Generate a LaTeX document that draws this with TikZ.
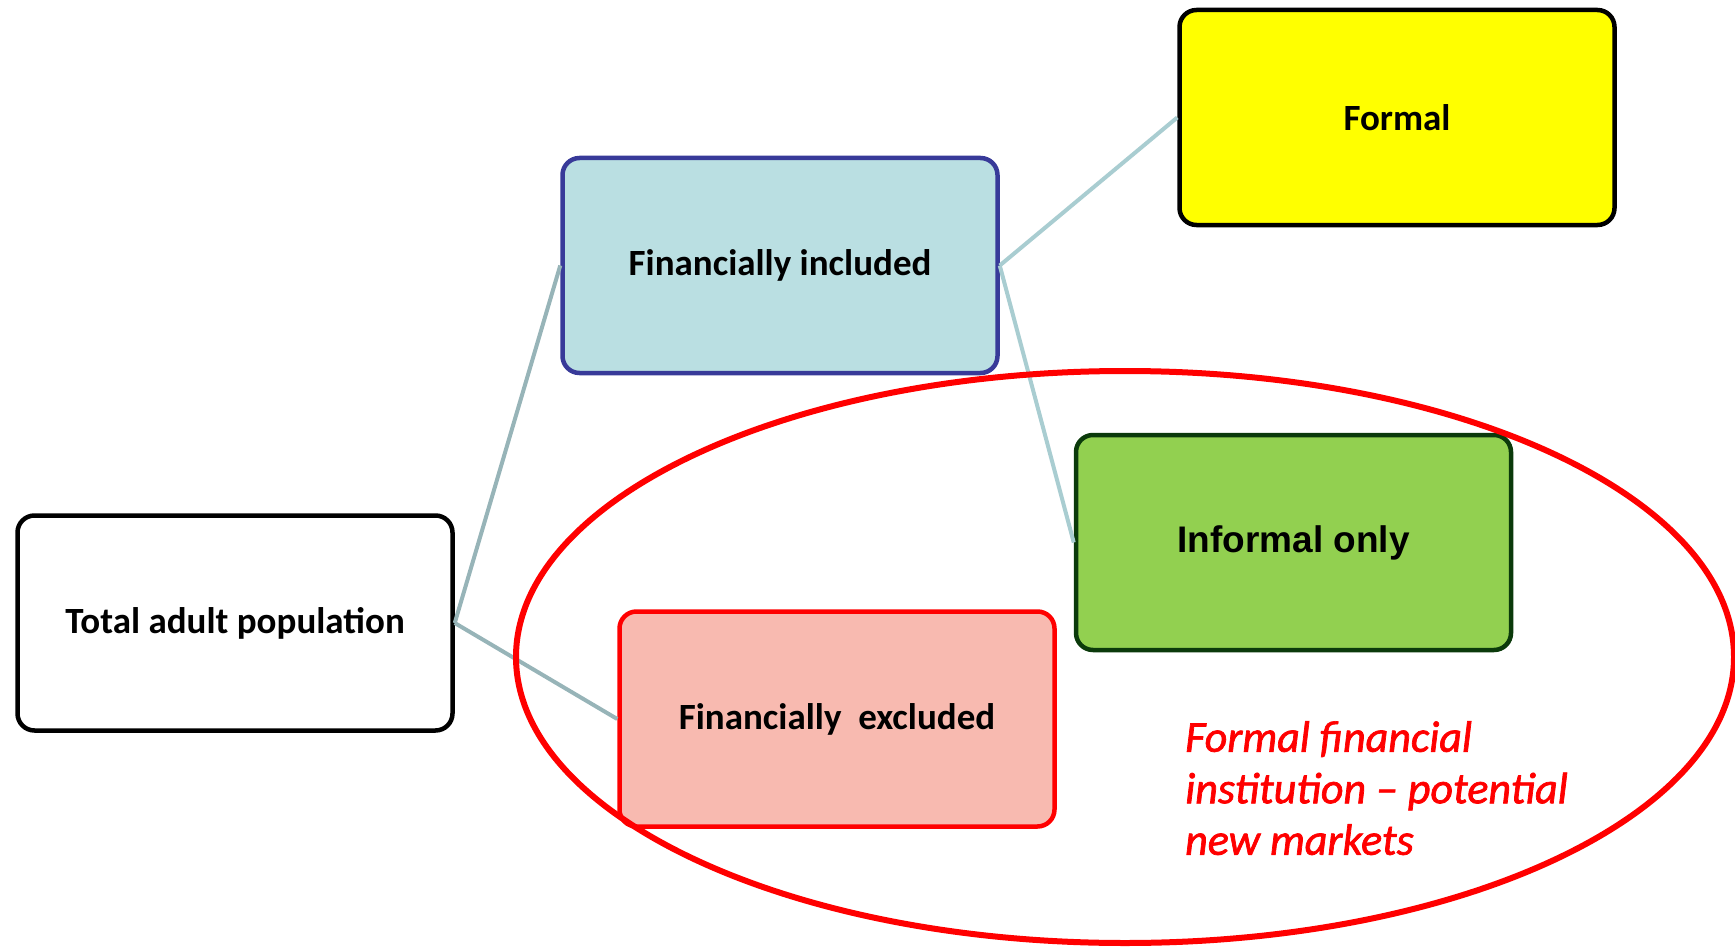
\documentclass[tikz,border=0pt]{standalone}
\usepackage{fontspec}
\setmainfont{Carlito}
\newfontfamily\arialfont{Liberation Sans}
\newfontfamily\notefont{Carlito}[FakeBold=1.6, Ligatures=TeX]
\definecolor{inclfill}{HTML}{BADFE2}
\definecolor{inclborder}{HTML}{383A99}
\definecolor{informfill}{HTML}{92D050}
\definecolor{informborder}{HTML}{0B3A0B}
\definecolor{exclfill}{HTML}{F8BAB0}
\definecolor{linkleft}{HTML}{97B4B8}
\definecolor{linkright}{HTML}{A9CDD1}
\definecolor{redline}{HTML}{FF0000}
\definecolor{formalfill}{HTML}{FFFF00}
\tikzset{
  box/.style={draw=black, fill=white, line width=4.5pt, rounded corners=17pt,
    minimum width=435pt, minimum height=215pt, inner sep=0pt,
    font=\fontsize{37}{44}\selectfont\bfseries},
  link/.style={line width=4pt},
}
\begin{document}
\begin{tikzpicture}[x=1pt,y=-1pt]
\useasboundingbox (0,0) rectangle (1735,947);
\node[box] (total) at (235,623) {Total adult population};
\node[box, fill=inclfill, draw=inclborder] (incl) at (780,265.5) {Financially included};
\node[box, fill=formalfill] (formal) at (1397,117.5) {Formal};
\node[box, fill=informfill, draw=informborder, font=\fontsize{37}{44}\selectfont\arialfont\bfseries] (inform) at (1293.5,542.5) {Informal only};
\node[box, fill=exclfill, draw=redline] (excl) at (837,719) {Financially~ excluded};
\draw[link, linkleft] (total.east) -- (incl.west);
\draw[link, linkleft] (total.east) -- (excl.west);
\draw[link, linkright] (incl.east) -- (formal.west);
\draw[link, linkright] (incl.east) -- (inform.west);
\node[anchor=north west, inner sep=0pt, align=left, text=redline,
  font=\fontsize{44}{51.5}\selectfont\notefont\itshape] (note) at (1185,721)
  {Formal financial\\institution – potential\\new markets};
\draw[redline, line width=6pt] (1125,657) ellipse [x radius=609pt, y radius=286pt];
\end{tikzpicture}
\end{document}
